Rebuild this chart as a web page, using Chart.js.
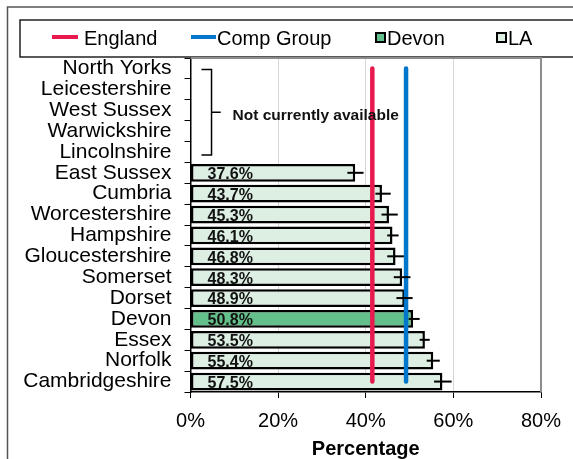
<!DOCTYPE html>
<html lang="en">
<head>
<meta charset="UTF-8" />
<title>Percentage by local authority</title>
<script src="https://cdn.jsdelivr.net/npm/chart.js"></script>
<style>
  html, body { margin: 0; padding: 0; background: #fff; }
  .wrap { position: relative; width: 573px; height: 459px; }
</style>
</head>
<body>
<div class="wrap"><canvas id="laChart" width="573" height="459"></canvas></div>
<script>
  // data
  const categories = ['North Yorks', 'Leicestershire', 'West Sussex', 'Warwickshire', 'Lincolnshire',
    'East Sussex', 'Cumbria', 'Worcestershire', 'Hampshire', 'Gloucestershire', 'Somerset',
    'Dorset', 'Devon', 'Essex', 'Norfolk', 'Cambridgeshire'];
  const laValues = [null, null, null, null, null, 37.6, 43.7, 45.3, 46.1, 46.8, 48.3, 48.9, 50.8, 53.5, 55.4, 57.5];
  const errLow  = [null, null, null, null, null, 35.8, 42.2, 43.6, 44.9, 44.9, 46.4, 47.0, 49.8, 52.3, 53.9, 55.6];
  const errHigh = [null, null, null, null, null, 39.5, 45.7, 47.3, 47.5, 48.7, 50.2, 50.7, 52.3, 54.6, 56.9, 59.6];
  const englandValue = 41.5;
  const compGroupValue = 49.2;
  const highlightLA = 'Devon';
  const missingLAs = ['North Yorks', 'Lincolnshire']; // first and last of the bracketed group
  const missingText = 'Not currently available';
  const xMin = 0, xMax = 80, xStep = 20;

  const FONT = "'Liberation Sans', Arial, sans-serif";
  const ENGLAND_COL = '#e8194f';
  const COMP_COL = '#0076cc';
  const LA_COL = '#ddefe3';
  const DEVON_COL = '#64c08a';

  const legendItems = [
    { text: 'England', kind: 'line', color: ENGLAND_COL, x0: 52, w: 26, gap: 6 },
    { text: 'Comp Group', kind: 'line', color: COMP_COL, x0: 191, w: 25, gap: 1 },
    { text: 'Devon', kind: 'box', color: DEVON_COL, x0: 376, w: 9, gap: 2 },
    { text: 'LA', kind: 'box', color: LA_COL, x0: 497, w: 9, gap: 2 }
  ];

  const framePlugin = {
    id: 'frame',
    beforeDraw(chart) {
      const ctx = chart.ctx;
      ctx.save();
      ctx.fillStyle = '#fff';
      ctx.fillRect(0, 0, chart.width, chart.height);
      // outer chart border (cut off at right/bottom)
      ctx.lineWidth = 1.5;
      ctx.strokeStyle = '#555';
      ctx.beginPath();
      ctx.moveTo(7.5, chart.height);
      ctx.lineTo(7.5, 7);
      ctx.lineTo(chart.width, 7);
      ctx.stroke();
      // legend box
      ctx.strokeStyle = '#000';
      ctx.lineWidth = 1.3;
      ctx.strokeRect(20, 20, chart.width + 10, 37);
      ctx.font = '20px ' + FONT;
      ctx.textBaseline = 'middle';
      ctx.fillStyle = '#000';
      legendItems.forEach(it => {
        if (it.kind === 'line') {
          ctx.strokeStyle = it.color;
          ctx.lineWidth = 4;
          ctx.beginPath();
          ctx.moveTo(it.x0, 37);
          ctx.lineTo(it.x0 + it.w, 37);
          ctx.stroke();
        } else {
          ctx.fillStyle = it.color;
          ctx.fillRect(it.x0, 33, it.w, it.w);
          ctx.strokeStyle = '#000';
          ctx.lineWidth = 2;
          ctx.strokeRect(it.x0, 33, it.w, it.w);
        }
        ctx.fillStyle = '#000';
        ctx.fillText(it.text, it.x0 + it.w + it.gap, 39);
      });
      ctx.restore();
    },
    afterDraw(chart) {
      const { ctx, chartArea: a } = chart;
      ctx.save();
      ctx.strokeStyle = '#8c8c8c';
      ctx.lineWidth = 2;
      ctx.beginPath();
      ctx.moveTo(a.left, a.top);
      ctx.lineTo(a.right, a.top);
      ctx.lineTo(a.right, a.bottom);
      ctx.stroke();
      ctx.restore();
    }
  };

  const overlayPlugin = {
    id: 'overlay',
    afterDatasetsDraw(chart) {
      const ctx = chart.ctx;
      const xs = chart.scales.x, ys = chart.scales.y;
      ctx.save();
      // error bars
      ctx.strokeStyle = '#000';
      ctx.lineWidth = 2;
      categories.forEach((c, i) => {
        if (laValues[i] == null) return;
        const y = ys.getPixelForValue(i);
        ctx.beginPath();
        ctx.moveTo(xs.getPixelForValue(errLow[i]), y);
        ctx.lineTo(xs.getPixelForValue(errHigh[i]), y);
        ctx.stroke();
      });
      // value labels inside bars
      ctx.fillStyle = '#111';
      ctx.font = 'bold 16px ' + FONT;
      ctx.textBaseline = 'middle';
      categories.forEach((c, i) => {
        if (laValues[i] == null) return;
        ctx.fillText(laValues[i].toFixed(1) + '%', xs.getPixelForValue(xMin) + 17, ys.getPixelForValue(i) + 2);
      });
      // bracket for the missing authorities
      const yTop = ys.getPixelForValue(categories.indexOf(missingLAs[0])) + 1;
      const yBot = ys.getPixelForValue(categories.indexOf(missingLAs[1])) + 3;
      const xIn = xs.getPixelForValue(2.5), xMid = xs.getPixelForValue(4.8), xOut = xs.getPixelForValue(6.9);
      const yMid = (yTop + yBot) / 2;
      ctx.lineWidth = 1.5;
      ctx.beginPath();
      ctx.moveTo(xIn, yTop);
      ctx.lineTo(xMid, yTop);
      ctx.lineTo(xMid, yBot);
      ctx.lineTo(xIn, yBot);
      ctx.moveTo(xMid, yMid);
      ctx.lineTo(xOut, yMid);
      ctx.stroke();
      ctx.font = 'bold 15.5px ' + FONT;
      ctx.fillText(missingText, xs.getPixelForValue(9.6), yMid + 4);
      ctx.restore();
    }
  };

  new Chart(document.getElementById('laChart'), {
    type: 'bar',
    data: {
      labels: categories,
      datasets: [
        {
          type: 'line',
          label: 'England',
          indexAxis: 'y',
          data: [{ x: englandValue, y: categories[0] }, { x: englandValue, y: categories[categories.length - 1] }],
          borderColor: ENGLAND_COL,
          borderWidth: 4.5,
          borderCapStyle: 'round',
          pointRadius: 0,
          order: 0
        },
        {
          type: 'line',
          label: 'Comp Group',
          indexAxis: 'y',
          data: [{ x: compGroupValue, y: categories[0] }, { x: compGroupValue, y: categories[categories.length - 1] }],
          borderColor: COMP_COL,
          borderWidth: 4.5,
          borderCapStyle: 'round',
          pointRadius: 0,
          order: 0
        },
        {
          label: 'LA',
          data: laValues,
          backgroundColor: categories.map(c => c === highlightLA ? DEVON_COL : LA_COL),
          borderColor: '#000',
          borderWidth: 2.5,
          borderSkipped: false,
          barPercentage: 0.85,
          categoryPercentage: 1,
          order: 2
        }
      ]
    },
    options: {
      indexAxis: 'y',
      responsive: false,
      animation: false,
      devicePixelRatio: 1,
      layout: { padding: { top: 58, right: 32, left: 0, bottom: 0 } },
      plugins: { legend: { display: false }, tooltip: { enabled: false } },
      scales: {
        x: {
          type: 'linear',
          min: xMin,
          max: xMax,
          afterFit: s => { s.height = 67; },
          ticks: {
            stepSize: xStep,
            callback: v => v + '%',
            color: '#000',
            font: { family: FONT, size: 20 },
            padding: 11
          },
          grid: { color: '#d6d6d6', tickColor: '#000', tickLength: 6, lineWidth: 1 },
          border: { color: '#000', width: 1.5 },
          title: {
            display: true,
            text: 'Percentage',
            color: '#000',
            font: { family: FONT, size: 20, weight: 'bold' },
            padding: { top: 0, bottom: -2 }
          }
        },
        y: {
          type: 'category',
          afterFit: s => { s.width = 190.5; },
          ticks: { color: '#000', font: { family: FONT, size: 21 }, padding: 13, autoSkip: false },
          grid: { offset: true, drawOnChartArea: false, tickColor: '#000', tickLength: 6 },
          border: { color: '#000', width: 1.5 }
        }
      }
    },
    plugins: [framePlugin, overlayPlugin]
  });
</script>
</body>
</html>
